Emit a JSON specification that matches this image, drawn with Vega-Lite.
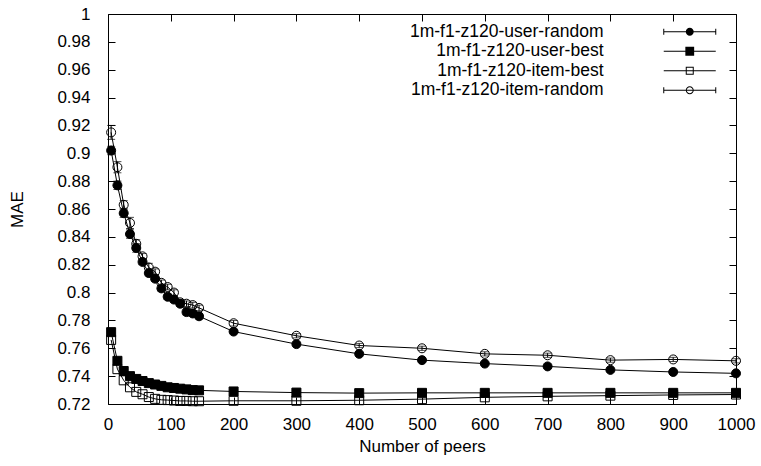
{
  "$schema": "https://vega.github.io/schema/vega-lite/v6.json",
  "width": 628,
  "height": 390,
  "autosize": {"type": "none"},
  "padding": {"left": 108, "top": 14, "right": 25, "bottom": 62},
  "background": "white",
  "config": {
    "view": {"stroke": "black", "strokeWidth": 1},
    "axis": {
      "domain": false, "grid": false, "ticks": true, "tickSize": -7, "tickColor": "black", "tickWidth": 1, "labelFlush": false,
      "labelColor": "black", "labelFont": "Liberation Sans", "labelFontSize": 17,
      "titleFont": "Liberation Sans", "titleFontSize": 17, "titleFontWeight": "normal", "titleColor": "black"
    },
    "legend": {"labelFont": "Liberation Sans", "labelFontSize": 17.5, "labelColor": "black"}
  },
  "data": {"values": [
    {"s":"1m-f1-z120-user-random","p":5,"mae":0.902,"err":0.003},
    {"s":"1m-f1-z120-user-random","p":15,"mae":0.877,"err":0.003},
    {"s":"1m-f1-z120-user-random","p":25,"mae":0.857,"err":0.003},
    {"s":"1m-f1-z120-user-random","p":35,"mae":0.842,"err":0.003},
    {"s":"1m-f1-z120-user-random","p":45,"mae":0.832,"err":0.003},
    {"s":"1m-f1-z120-user-random","p":55,"mae":0.822,"err":0.002},
    {"s":"1m-f1-z120-user-random","p":65,"mae":0.814,"err":0.002},
    {"s":"1m-f1-z120-user-random","p":75,"mae":0.810,"err":0.002},
    {"s":"1m-f1-z120-user-random","p":85,"mae":0.803,"err":0.002},
    {"s":"1m-f1-z120-user-random","p":95,"mae":0.797,"err":0.002},
    {"s":"1m-f1-z120-user-random","p":105,"mae":0.795,"err":0.002},
    {"s":"1m-f1-z120-user-random","p":115,"mae":0.792,"err":0.002},
    {"s":"1m-f1-z120-user-random","p":125,"mae":0.786,"err":0.002},
    {"s":"1m-f1-z120-user-random","p":135,"mae":0.785,"err":0.002},
    {"s":"1m-f1-z120-user-random","p":145,"mae":0.783,"err":0.002},
    {"s":"1m-f1-z120-user-random","p":200,"mae":0.772,"err":0.001},
    {"s":"1m-f1-z120-user-random","p":300,"mae":0.763,"err":0.001},
    {"s":"1m-f1-z120-user-random","p":400,"mae":0.756,"err":0.001},
    {"s":"1m-f1-z120-user-random","p":500,"mae":0.7515,"err":0.001},
    {"s":"1m-f1-z120-user-random","p":600,"mae":0.749,"err":0.001},
    {"s":"1m-f1-z120-user-random","p":700,"mae":0.747,"err":0.001},
    {"s":"1m-f1-z120-user-random","p":800,"mae":0.7445,"err":0.001},
    {"s":"1m-f1-z120-user-random","p":900,"mae":0.743,"err":0.001},
    {"s":"1m-f1-z120-user-random","p":1000,"mae":0.742,"err":0.001},
    {"s":"1m-f1-z120-item-random","p":5,"mae":0.915,"err":0.005},
    {"s":"1m-f1-z120-item-random","p":15,"mae":0.890,"err":0.004},
    {"s":"1m-f1-z120-item-random","p":25,"mae":0.863,"err":0.003},
    {"s":"1m-f1-z120-item-random","p":35,"mae":0.850,"err":0.004},
    {"s":"1m-f1-z120-item-random","p":45,"mae":0.835,"err":0.003},
    {"s":"1m-f1-z120-item-random","p":55,"mae":0.826,"err":0.002},
    {"s":"1m-f1-z120-item-random","p":65,"mae":0.818,"err":0.003},
    {"s":"1m-f1-z120-item-random","p":75,"mae":0.815,"err":0.002},
    {"s":"1m-f1-z120-item-random","p":85,"mae":0.807,"err":0.002},
    {"s":"1m-f1-z120-item-random","p":95,"mae":0.804,"err":0.002},
    {"s":"1m-f1-z120-item-random","p":105,"mae":0.800,"err":0.002},
    {"s":"1m-f1-z120-item-random","p":115,"mae":0.793,"err":0.002},
    {"s":"1m-f1-z120-item-random","p":125,"mae":0.792,"err":0.002},
    {"s":"1m-f1-z120-item-random","p":135,"mae":0.791,"err":0.002},
    {"s":"1m-f1-z120-item-random","p":145,"mae":0.789,"err":0.002},
    {"s":"1m-f1-z120-item-random","p":200,"mae":0.778,"err":0.002},
    {"s":"1m-f1-z120-item-random","p":300,"mae":0.769,"err":0.0015},
    {"s":"1m-f1-z120-item-random","p":400,"mae":0.762,"err":0.0015},
    {"s":"1m-f1-z120-item-random","p":500,"mae":0.760,"err":0.0015},
    {"s":"1m-f1-z120-item-random","p":600,"mae":0.756,"err":0.0015},
    {"s":"1m-f1-z120-item-random","p":700,"mae":0.755,"err":0.0015},
    {"s":"1m-f1-z120-item-random","p":800,"mae":0.7515,"err":0.0015},
    {"s":"1m-f1-z120-item-random","p":900,"mae":0.752,"err":0.0015},
    {"s":"1m-f1-z120-item-random","p":1000,"mae":0.751,"err":0.0015},
    {"s":"1m-f1-z120-user-best","p":5,"mae":0.7716},
    {"s":"1m-f1-z120-user-best","p":15,"mae":0.751},
    {"s":"1m-f1-z120-user-best","p":25,"mae":0.7437},
    {"s":"1m-f1-z120-user-best","p":35,"mae":0.740},
    {"s":"1m-f1-z120-user-best","p":45,"mae":0.738},
    {"s":"1m-f1-z120-user-best","p":55,"mae":0.7365},
    {"s":"1m-f1-z120-user-best","p":65,"mae":0.735},
    {"s":"1m-f1-z120-user-best","p":75,"mae":0.734},
    {"s":"1m-f1-z120-user-best","p":85,"mae":0.733},
    {"s":"1m-f1-z120-user-best","p":95,"mae":0.732},
    {"s":"1m-f1-z120-user-best","p":105,"mae":0.7315},
    {"s":"1m-f1-z120-user-best","p":115,"mae":0.731},
    {"s":"1m-f1-z120-user-best","p":125,"mae":0.7305},
    {"s":"1m-f1-z120-user-best","p":135,"mae":0.730},
    {"s":"1m-f1-z120-user-best","p":145,"mae":0.7298},
    {"s":"1m-f1-z120-user-best","p":200,"mae":0.729},
    {"s":"1m-f1-z120-user-best","p":300,"mae":0.7282},
    {"s":"1m-f1-z120-user-best","p":400,"mae":0.7278},
    {"s":"1m-f1-z120-user-best","p":500,"mae":0.728},
    {"s":"1m-f1-z120-user-best","p":600,"mae":0.728},
    {"s":"1m-f1-z120-user-best","p":700,"mae":0.728},
    {"s":"1m-f1-z120-user-best","p":800,"mae":0.728},
    {"s":"1m-f1-z120-user-best","p":900,"mae":0.728},
    {"s":"1m-f1-z120-user-best","p":1000,"mae":0.728},
    {"s":"1m-f1-z120-item-best","p":5,"mae":0.766},
    {"s":"1m-f1-z120-item-best","p":15,"mae":0.745},
    {"s":"1m-f1-z120-item-best","p":25,"mae":0.737},
    {"s":"1m-f1-z120-item-best","p":35,"mae":0.732},
    {"s":"1m-f1-z120-item-best","p":45,"mae":0.7287},
    {"s":"1m-f1-z120-item-best","p":55,"mae":0.727},
    {"s":"1m-f1-z120-item-best","p":65,"mae":0.725},
    {"s":"1m-f1-z120-item-best","p":75,"mae":0.7237},
    {"s":"1m-f1-z120-item-best","p":85,"mae":0.723},
    {"s":"1m-f1-z120-item-best","p":95,"mae":0.7228},
    {"s":"1m-f1-z120-item-best","p":105,"mae":0.7225},
    {"s":"1m-f1-z120-item-best","p":115,"mae":0.7222},
    {"s":"1m-f1-z120-item-best","p":125,"mae":0.7222},
    {"s":"1m-f1-z120-item-best","p":135,"mae":0.722},
    {"s":"1m-f1-z120-item-best","p":145,"mae":0.722},
    {"s":"1m-f1-z120-item-best","p":200,"mae":0.7223},
    {"s":"1m-f1-z120-item-best","p":300,"mae":0.7223},
    {"s":"1m-f1-z120-item-best","p":400,"mae":0.7227},
    {"s":"1m-f1-z120-item-best","p":500,"mae":0.7235},
    {"s":"1m-f1-z120-item-best","p":600,"mae":0.7248},
    {"s":"1m-f1-z120-item-best","p":700,"mae":0.7255},
    {"s":"1m-f1-z120-item-best","p":800,"mae":0.726},
    {"s":"1m-f1-z120-item-best","p":900,"mae":0.7265},
    {"s":"1m-f1-z120-item-best","p":1000,"mae":0.7268}
  ]},
  "layer": [
    {
      "mark": {"type": "line", "color": "black", "strokeWidth": 1},
      "encoding": {
        "x": {"field": "p", "type": "quantitative", "scale": {"domain": [0, 1000], "nice": false},
              "axis": {"orient": "bottom", "values": [0,100,200,300,400,500,600,700,800,900,1000], "format": "d", "labelPadding": 19, "title": "Number of peers", "titlePadding": 6}},
        "y": {"field": "mae", "type": "quantitative", "scale": {"domain": [0.72, 1], "nice": false, "zero": false},
              "axis": {"orient": "left", "values": [0.72,0.74,0.76,0.78,0.8,0.82,0.84,0.86,0.88,0.9,0.92,0.94,0.96,0.98,1], "format": "~g", "labelPadding": 25, "title": "MAE", "titlePadding": 30}},
        "detail": {"field": "s", "type": "nominal"}
      }
    },
    {
      "transform": [{"filter": "isValid(datum.err)"}],
      "mark": {"type": "errorbar", "color": "black", "ticks": {"size": 8, "thickness": 1, "color": "black"}, "rule": {"strokeWidth": 1, "color": "black"}},
      "encoding": {
        "x": {"field": "p", "type": "quantitative", "axis": null},
        "y": {"field": "mae", "type": "quantitative", "axis": null},
        "yError": {"field": "err"},
        "detail": {"field": "s", "type": "nominal"}
      }
    },
    {
      "transform": [{"filter": "datum.s === '1m-f1-z120-user-random'"}],
      "mark": {"type": "circle", "stroke": "black", "fill": "black", "strokeWidth": 1, "opacity": 1, "size": 81},
      "encoding": {
        "x": {"field": "p", "type": "quantitative", "axis": {"orient": "top", "values": [0,100,200,300,400,500,600,700,800,900,1000], "labels": false, "title": null}},
        "y": {"field": "mae", "type": "quantitative", "axis": {"orient": "right", "values": [0.72,0.74,0.76,0.78,0.8,0.82,0.84,0.86,0.88,0.9,0.92,0.94,0.96,0.98,1], "labels": false, "title": null}}
      }
    },
    {
      "transform": [{"filter": "datum.s === '1m-f1-z120-item-random'"}],
      "mark": {"type": "point", "shape": "circle", "stroke": "black", "fill": "transparent", "filled": false, "strokeWidth": 1, "opacity": 1, "size": 81},
      "encoding": {
        "x": {"field": "p", "type": "quantitative", "axis": null},
        "y": {"field": "mae", "type": "quantitative", "axis": null}
      }
    },
    {
      "transform": [{"filter": "datum.s === '1m-f1-z120-user-best'"}],
      "mark": {"type": "square", "stroke": "black", "fill": "black", "strokeWidth": 1, "opacity": 1, "size": 81},
      "encoding": {
        "x": {"field": "p", "type": "quantitative", "axis": null},
        "y": {"field": "mae", "type": "quantitative", "axis": null}
      }
    },
    {
      "transform": [{"filter": "datum.s === '1m-f1-z120-item-best'"}],
      "mark": {"type": "point", "shape": "square", "stroke": "black", "fill": "transparent", "filled": false, "strokeWidth": 1, "opacity": 1, "size": 81},
      "encoding": {
        "x": {"field": "p", "type": "quantitative", "axis": null},
        "y": {"field": "mae", "type": "quantitative", "axis": null}
      }
    },
    {
      "mark": {"type": "point", "filled": true, "color": "black", "opacity": 0, "size": 64},
      "encoding": {
        "x": {"field": "p", "type": "quantitative", "axis": null},
        "y": {"field": "mae", "type": "quantitative", "axis": null},
        "shape": {"field": "s", "type": "nominal",
                  "scale": {"domain": ["1m-f1-z120-user-random","1m-f1-z120-user-best","1m-f1-z120-item-best","1m-f1-z120-item-random"],
                            "range": [
                              "M-6.5,-0.125H6.5V0.125H-6.5ZM-6.625,-0.75H-6.375V0.75H-6.625ZM6.375,-0.75H6.625V0.75H6.375ZM1,0A1,1 0 1,1 -1,0A1,1 0 1,1 1,0Z",
                              "M-6.5,-0.125H6.5V0.125H-6.5ZM-1.1,-1.1H1.1V1.1H-1.1Z",
                              "M-6.5,-0.125H6.5V0.125H-6.5ZM-1,-1H1V1H-1ZM-0.75,-0.75V0.75H0.75V-0.75Z",
                              "M-6.5,-0.125H6.5V0.125H-6.5ZM-6.625,-0.75H-6.375V0.75H-6.625ZM6.375,-0.75H6.625V0.75H6.375ZM1,0A1,1 0 1,1 -1,0A1,1 0 1,1 1,0ZM0.75,0A0.75,0.75 0 1,0 -0.75,0A0.75,0.75 0 1,0 0.75,0Z"
                            ]},
                  "legend": {
                    "title": null, "orient": "none", "legendX": 573, "legendY": 9, "padding": 0,
                    "symbolSize": 64, "symbolOpacity": 1, "symbolFillColor": "black",
                    "labelAlign": "right", "labelOffset": -95, "labelLimit": 500, "rowPadding": 0.5
                  }}
      }
    }
  ],
  "resolve": {"axis": {"x": "independent", "y": "independent"}}
}
